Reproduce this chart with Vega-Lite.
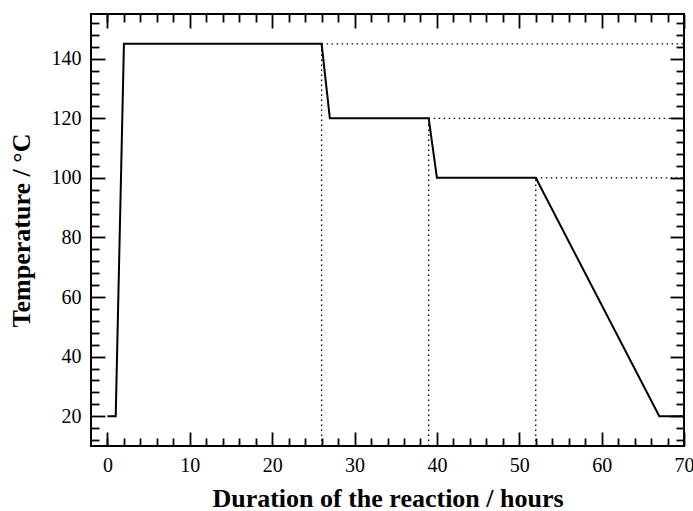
{
  "$schema": "https://vega.github.io/schema/vega-lite/v6.json",
  "width": 593,
  "height": 432,
  "autosize": {"type": "none"},
  "padding": {"left": 91, "top": 14, "right": 9, "bottom": 65},
  "config": {
    "view": {"stroke": "black", "strokeWidth": 2},
    "axis": {"domain": false, "grid": false, "labelFlush": false, "tickColor": "black", "tickWidth": 1.8, "labelFont": "Liberation Serif", "labelFontSize": 20, "labelColor": "black", "titleFont": "Liberation Serif", "titleFontSize": 26, "titleFontWeight": "bold", "titleColor": "black"}
  },
  "datasets": {
    "profile": [
      {"hours": 0, "temp": 20},
      {"hours": 1, "temp": 20},
      {"hours": 2, "temp": 145},
      {"hours": 26, "temp": 145},
      {"hours": 27, "temp": 120},
      {"hours": 39, "temp": 120},
      {"hours": 40, "temp": 100},
      {"hours": 52, "temp": 100},
      {"hours": 67, "temp": 20},
      {"hours": 70, "temp": 20}
    ],
    "guides": [
      {"x": 26, "y": 10, "x2": 26, "y2": 145},
      {"x": 39, "y": 10, "x2": 39, "y2": 120},
      {"x": 52, "y": 10, "x2": 52, "y2": 100},
      {"x": 26, "y": 145, "x2": 70, "y2": 145},
      {"x": 39, "y": 120, "x2": 70, "y2": 120},
      {"x": 52, "y": 100, "x2": 70, "y2": 100}
    ]
  },
  "layer": [
    {
      "data": {"name": "guides"},
      "mark": {"type": "rule", "color": "black", "strokeWidth": 1.3, "strokeDash": [1.5, 3.5]},
      "encoding": {
        "x": {"field": "x", "type": "quantitative", "scale": {"domain": [-2, 70], "nice": false, "zero": false},
              "axis": {"orient": "bottom", "values": [0,2,4,6,8,12,14,16,18,22,24,26,28,32,34,36,38,42,44,46,48,52,54,56,58,62,64,66,68], "labels": false, "tickSize": -8, "title": null}},
        "x2": {"field": "x2"},
        "y": {"field": "y", "type": "quantitative", "scale": {"domain": [10, 155], "nice": false, "zero": false},
              "axis": {"orient": "left", "values": [12,16,24,28,32,36,44,48,52,56,64,68,72,76,84,88,92,96,104,108,112,116,124,128,132,136,144,148,152], "labels": false, "tickSize": -8, "title": null}},
        "y2": {"field": "y2"}
      }
    },
    {
      "data": {"name": "profile"},
      "mark": {"type": "line", "color": "black", "strokeWidth": 2},
      "encoding": {
        "x": {"field": "hours", "type": "quantitative",
              "axis": {"orient": "bottom", "values": [0,10,20,30,40,50,60,70], "tickSize": -14, "labelPadding": 23, "title": "Duration of the reaction / hours", "titlePadding": 10}},
        "y": {"field": "temp", "type": "quantitative",
              "axis": {"orient": "left", "values": [20,40,60,80,100,120,140], "tickSize": -14, "labelPadding": 24, "title": "Temperature / °C", "titlePadding": 17}}
      }
    },
    {
      "data": {"name": "profile"},
      "mark": {"type": "line", "opacity": 0},
      "encoding": {
        "x": {"field": "hours", "type": "quantitative",
              "axis": {"orient": "top", "values": [0,10,20,30,40,50,60,70], "tickSize": -14, "labels": false, "title": null}},
        "y": {"field": "temp", "type": "quantitative",
              "axis": {"orient": "right", "values": [20,40,60,80,100,120,140], "tickSize": -14, "labels": false, "title": null}}
      }
    },
    {
      "data": {"name": "profile"},
      "mark": {"type": "line", "opacity": 0},
      "encoding": {
        "x": {"field": "hours", "type": "quantitative",
              "axis": {"orient": "top", "values": [0,2,4,6,8,12,14,16,18,22,24,26,28,32,34,36,38,42,44,46,48,52,54,56,58,62,64,66,68], "tickSize": -8, "labels": false, "title": null}},
        "y": {"field": "temp", "type": "quantitative",
              "axis": {"orient": "right", "values": [12,16,24,28,32,36,44,48,52,56,64,68,72,76,84,88,92,96,104,108,112,116,124,128,132,136,144,148,152], "tickSize": -8, "labels": false, "title": null}}
      }
    }
  ],
  "resolve": {"axis": {"x": "independent", "y": "independent"}}
}
